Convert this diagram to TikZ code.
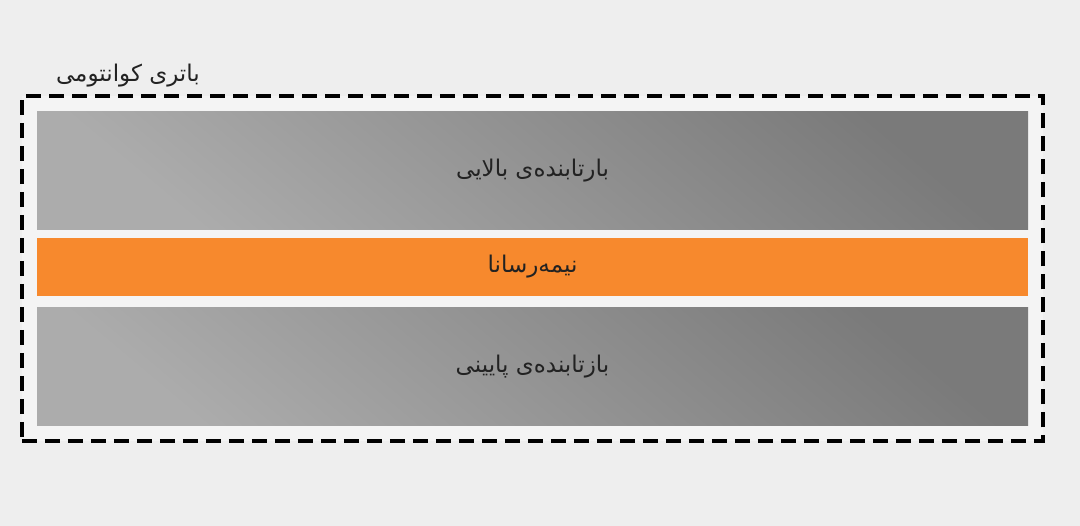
\documentclass[tikz,border=0pt]{standalone}
\usepackage{fontspec}
\newfontfamily\farsifont[Script=Arabic]{DejaVu Sans}
\TeXXeTstate=1
\usepackage{tikz}
\usetikzlibrary{positioning,fit,backgrounds}

\definecolor{paper}{HTML}{EEEEEE}
\definecolor{inner}{HTML}{F4F4F4}
\definecolor{greylight}{HTML}{ACACAC}
\definecolor{greydark}{HTML}{7A7A7A}
\definecolor{semicolor}{HTML}{F7892D}
\definecolor{textcolor}{HTML}{222222}

\begin{document}
\begin{tikzpicture}[
    x=1pt,y=-1pt,
    %styles
    layer/.style={minimum width=991pt,inner sep=0pt,text=textcolor,
        font=\farsifont\fontsize{23}{27}\selectfont},
    reflector/.style={layer,minimum height=118pt,
        top color=greydark,bottom color=greylight,shading angle=-40},
    semi/.style={layer,minimum height=58pt,fill=semicolor},
    battery/.style={draw=black,line width=3.5pt,dash pattern=on 15pt off 8pt,
        fill=inner,inner xsep=15pt,inner ysep=15.5pt},
    label text/.style={text=textcolor,inner sep=0pt,
        font=\farsifont\fontsize{23}{27}\selectfont},
  ]
  \useasboundingbox (0,0) rectangle (1080,526);

  \node[semi] (semi) at (532.5,267) {\beginR نیمه‌رسانا\endR};
  \node[reflector,above=8pt of semi] (upper) {\beginR بارتابنده‌ی بالایی\endR};
  \node[reflector,below=11pt of semi] (lower) {\beginR بازتابنده‌ی پایینی\endR};

  \begin{scope}[on background layer]
    \fill[paper] (0,0) rectangle (1080,526);
    \node[battery,fit=(upper)(lower)] (battery) {};
  \end{scope}
  \node[label text,anchor=base east] (title) at (200,82) {\beginR باتری کوانتومی\endR};
\end{tikzpicture}
\end{document}
